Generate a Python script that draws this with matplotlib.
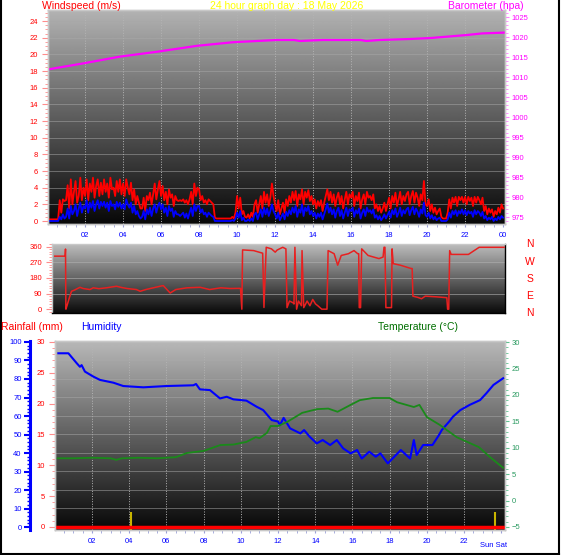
import numpy as np
import matplotlib
matplotlib.use('Agg')
import matplotlib.pyplot as plt
from matplotlib.lines import Line2D
from matplotlib.ticker import MultipleLocator

plt.rcParams['font.family'] = ['Liberation Sans', 'DejaVu Sans']

W, H = 566, 555

# wind speed, 5-minute readings (m/s), one row per hour
gust_rows = [
    [0.2, 0.2, 0.2, 0.2, 0.2, 0.2, 0.2, 0.2, 2.5, 1.0, 2.6, 2.4],
    [2.5, 4.3, 1.5, 5.0, 2.0, 3.5, 4.8, 2.2, 3.0, 5.2, 2.5, 4.0],
    [3.0, 5.0, 2.5, 4.5, 3.5, 5.2, 2.8, 4.2, 5.0, 3.0, 4.6, 3.2],
    [5.0, 3.5, 4.5, 2.8, 5.2, 3.8, 4.0, 3.0, 4.8, 3.5, 5.0, 3.2],
    [4.5, 3.0, 5.0, 4.0, 3.2, 4.6, 2.5, 3.8, 2.0, 3.0, 2.2, 1.5],
    [1.5, 2.8, 1.2, 3.0, 2.5, 3.4, 2.0, 3.2, 4.5, 2.6, 3.8, 4.8],
    [3.0, 4.2, 2.5, 3.5, 2.0, 3.8, 2.8, 3.2, 1.8, 3.0, 2.5, 2.4],
    [2.5, 2.4, 2.6, 2.2, 2.5, 2.0, 2.6, 3.5, 2.0, 4.5, 3.0, 4.0],
    [3.8, 2.5, 3.0, 2.2, 2.5, 2.0, 2.6, 2.4, 2.2, 2.0, 0.4, 0.3],
    [0.3, 0.3, 0.3, 0.3, 0.3, 0.3, 0.3, 0.3, 0.3, 0.5, 0.3, 1.0],
    [3.0, 1.5, 2.8, 0.8, 1.2, 0.5, 0.4, 0.8, 0.3, 1.0, 0.5, 2.0],
    [2.5, 1.0, 2.0, 3.0, 1.5, 3.5, 2.2, 3.2, 1.8, 2.8, 4.5, 3.0],
    [2.0, 1.2, 2.5, 0.8, 1.5, 2.2, 1.0, 2.6, 1.8, 3.0, 2.2, 3.5],
    [2.5, 3.6, 1.8, 3.2, 2.6, 3.8, 2.0, 3.5, 2.8, 3.7, 2.4, 3.0],
    [2.0, 2.6, 1.5, 2.4, 1.8, 2.5, 1.2, 2.2, 3.0, 3.8, 2.5, 3.5],
    [2.2, 3.2, 1.8, 2.8, 3.4, 2.0, 3.0, 1.5, 2.6, 3.5, 2.0, 3.2],
    [2.8, 3.5, 1.8, 3.0, 2.4, 3.4, 1.5, 2.6, 3.2, 2.0, 3.5, 2.8],
    [3.0, 2.5, 3.2, 1.5, 2.0, 1.2, 1.8, 1.0, 1.5, 2.2, 1.2, 2.0],
    [2.8, 1.5, 3.0, 2.2, 3.4, 1.8, 2.6, 3.5, 2.0, 3.0, 2.4, 3.2],
    [3.5, 2.0, 3.0, 3.6, 2.2, 3.4, 2.8, 1.8, 3.2, 2.5, 4.8, 2.0],
    [1.8, 2.6, 1.2, 2.0, 1.0, 1.6, 0.8, 1.2, 1.5, 0.5, 0.3, 0.3],
    [0.3, 1.0, 2.6, 1.5, 2.8, 2.2, 2.9, 1.8, 2.9, 2.5, 2.9, 2.2],
    [2.9, 2.0, 2.9, 2.4, 2.8, 1.8, 2.9, 2.2, 2.9, 2.5, 2.0, 2.8],
    [1.2, 1.8, 0.8, 1.5, 1.0, 1.4, 0.5, 1.2, 0.8, 1.6, 1.0, 2.0],
]
avg_rows = [
    [0.0, 0.0, 0.0, 0.0, 0.0, 0.0, 0.0, 0.0, 0.5, 0.2, 0.8, 0.3],
    [0.5, 1.5, 0.3, 1.8, 0.8, 1.2, 2.0, 0.6, 1.5, 2.2, 1.0, 1.8],
    [1.5, 2.5, 1.0, 2.2, 1.6, 2.4, 1.2, 2.0, 2.5, 1.5, 2.3, 1.8],
    [2.3, 1.6, 2.2, 1.2, 2.4, 1.8, 2.0, 1.4, 2.3, 1.7, 2.2, 1.5],
    [2.0, 1.4, 2.6, 2.0, 1.6, 2.2, 1.0, 1.8, 0.8, 1.2, 0.6, 0.3],
    [0.5, 1.2, 0.2, 1.4, 0.8, 1.6, 0.6, 1.5, 2.0, 1.0, 1.8, 2.2],
    [1.4, 2.0, 1.0, 1.6, 0.6, 1.8, 1.2, 1.5, 0.5, 1.2, 0.8, 0.8],
    [0.6, 0.8, 1.0, 0.4, 0.9, 0.3, 1.0, 1.6, 0.6, 2.0, 1.2, 1.8],
    [1.8, 1.0, 1.4, 0.8, 1.0, 0.5, 1.0, 0.8, 0.6, 0.5, 0.0, 0.0],
    [0.0, 0.0, 0.0, 0.0, 0.0, 0.0, 0.0, 0.0, 0.0, 0.1, 0.0, 0.3],
    [1.0, 0.4, 1.2, 0.1, 0.4, 0.0, 0.0, 0.2, 0.0, 0.3, 0.0, 0.8],
    [1.0, 0.2, 0.8, 1.4, 0.5, 1.6, 0.8, 1.5, 0.6, 1.2, 2.0, 1.2],
    [0.8, 0.3, 1.0, 0.1, 0.5, 0.9, 0.2, 1.1, 0.6, 1.3, 0.8, 1.6],
    [1.0, 1.8, 0.5, 1.4, 1.0, 2.0, 0.6, 1.6, 1.2, 1.8, 0.8, 1.2],
    [0.6, 1.0, 0.3, 0.9, 0.5, 1.0, 0.2, 0.8, 1.4, 2.1, 1.0, 1.6],
    [0.8, 1.4, 0.4, 1.2, 1.6, 0.6, 1.3, 0.3, 1.0, 1.6, 0.6, 1.4],
    [1.2, 1.6, 0.5, 1.3, 0.9, 1.5, 0.3, 1.0, 1.4, 0.6, 1.6, 1.1],
    [1.3, 0.9, 1.4, 0.4, 0.7, 0.2, 0.6, 0.1, 0.4, 0.8, 0.3, 0.7],
    [1.1, 0.4, 1.3, 0.8, 1.5, 0.5, 1.0, 1.6, 0.6, 1.3, 0.9, 1.4],
    [1.6, 0.7, 1.3, 1.7, 0.8, 1.5, 1.1, 0.5, 1.4, 0.9, 2.2, 0.7],
    [0.5, 1.0, 0.3, 0.7, 0.2, 0.5, 0.1, 0.3, 0.4, 0.0, 0.0, 0.0],
    [0.0, 0.2, 1.0, 0.4, 1.2, 0.8, 1.3, 0.6, 1.2, 0.9, 1.4, 0.8],
    [1.3, 0.7, 1.2, 0.9, 1.1, 0.5, 1.3, 0.8, 1.2, 1.0, 0.6, 1.1],
    [0.3, 0.6, 0.1, 0.4, 0.2, 0.5, 0.0, 0.3, 0.1, 0.5, 0.2, 0.6],
]
wind_gust = [v for row in gust_rows for v in row] + [1.5]
wind_avg = [v for row in avg_rows for v in row] + [0.4]
wind_hours = np.arange(len(wind_gust)) / 12.0

# barometer (hPa)
baro_hours = [0.05, 1.9, 3.84, 5.77, 7.9, 9.8, 12.1, 13.0, 13.3, 14.5, 16.5, 16.8, 17.5, 19.1, 20.2, 22.1, 22.9, 24.1]
baro_hpa = [1011.9, 1013.4, 1015.1, 1016.3, 1017.8, 1018.7, 1019.25, 1019.25, 1019.0, 1019.25,
            1019.25, 1019.0, 1019.25, 1019.5, 1019.75, 1020.5, 1020.9, 1021.1]

# wind direction (degrees)
dir_hours = [0.05, 0.6, 0.62, 0.64, 0.7, 0.82, 0.94, 1.1, 1.39, 1.56, 1.92, 2.1, 2.4, 2.8, 3.1,
             3.34, 3.6, 3.9, 4.4, 4.6, 4.9, 5.3, 5.83, 6.2, 6.5, 7.1, 7.8, 8.3, 8.9, 9.4, 9.95,
             10.02, 10.06, 10.65, 11.13, 11.2, 11.32, 11.6, 11.8, 11.9, 12.2, 12.37, 12.43, 12.56,
             12.75, 12.8, 12.85, 12.94, 13.04, 13.2, 13.23, 13.32, 13.5, 13.65, 13.8, 13.95, 14.08,
             14.28, 14.56, 14.62, 14.94, 15.13, 15.32, 15.7, 16.0, 16.2, 16.25, 16.28, 16.35, 16.41,
             16.75, 17.33, 17.55, 17.6, 17.65, 17.7, 18.0, 18.03, 18.09, 18.47, 19.04, 19.1, 19.14,
             19.4, 19.6, 19.8, 20.4, 20.95, 20.99, 21.05, 21.1, 21.18, 22.1, 22.67, 24.0]
dir_deg = [305, 305, 346, 0, 20, 64, 103, 110, 126, 119, 113, 123, 118, 123, 128,
           132, 125, 119, 113, 103, 113, 123, 136, 93, 113, 123, 126, 113, 123, 119, 120,
           0, 341, 337, 322, 10, 356, 347, 328, 340, 356, 347, 9, 47,
           37, 30, 356, 0, 47, 20, 337, 9, 47, 20, 56, 30, 19,
           0, 0, 337, 319, 253, 309, 319, 337, 319, 319, 9, 9, 347,
           309, 291, 300, 356, 356, 9, 9, 347, 262, 253, 234, 234, 75,
           68, 60, 75, 71, 66, 0, 0, 337, 315, 315, 356, 356]

# humidity (%)
hum_hours = [0.19, 0.73, 1.18, 1.35, 1.44, 1.62, 2.07, 2.43, 3.15, 3.68, 4.76, 6.0, 7.45, 7.59,
             7.8, 8.34, 8.88, 9.24, 9.6, 10.3, 10.85, 11.2, 11.66, 12.0, 12.1, 12.3, 12.65, 13.2,
             13.4, 13.7, 14.08, 14.4, 14.8, 15.16, 15.5, 15.9, 16.25, 16.5, 16.9, 17.25, 17.5,
             17.9, 18.25, 18.6, 19.1, 19.3, 19.45, 19.8, 20.3, 20.65, 20.8, 21.2, 21.4, 21.8,
             22.3, 22.86, 23.2, 23.58, 24.1]
hum_pct = [93.9, 93.9, 88.5, 86.6, 87.5, 84, 81.3, 79.5, 78, 76.2, 75.5, 76.2, 76.6, 77.3,
           74.4, 74, 69.5, 70.4, 69, 68.3, 65, 63.2, 57.8, 57, 55, 59, 53.3, 50.6,
           52.4, 48.8, 45.2, 47, 44.3, 47, 42.5, 39.8, 41.6, 37, 40.7, 38, 39.8,
           34.4, 38, 41.6, 37, 47, 38.9, 44.3, 44.3, 49.7, 52.4, 57, 59.6, 63.2,
           66, 68.6, 72.3, 76.8, 80.4]

# temperature (C)
temp_hours = [0.15, 1.0, 2.0, 3.0, 3.3, 3.6, 4.5, 5.5, 6.5, 7.1, 8.0, 8.9, 9.6, 10.3, 10.8, 11.0,
              11.4, 11.6, 12.0, 12.5, 13.3, 14.1, 14.7, 15.2, 15.9, 16.4, 17.1, 18.0, 18.4, 18.9,
              19.3, 19.6, 20.0, 20.7, 21.6, 22.8, 23.4, 24.1]
temp_c = [8.0, 8.0, 8.1, 8.0, 7.7, 8.0, 8.1, 8.0, 8.2, 9.0, 9.4, 10.5, 10.6, 11.1, 12.0, 11.8,
          12.8, 14.1, 14.1, 14.9, 16.6, 17.3, 17.4, 16.8, 18.1, 19.0, 19.4, 19.4, 18.6, 18.1,
          17.7, 18.1, 15.8, 14.3, 12.0, 10.1, 8.2, 6.2]

# rainfall (mm)
rain_hours = [0.0, 24.2]
rain_mm = [0.0, 0.0]
mark_hours = [4.1, 23.68]
mark_mm = [2.4, 2.4]

hour_ticks = list(range(2, 25, 2))
hour_labels = ['%02d' % (h % 24) for h in hour_ticks]

RED = '#ff0000'
PINK = '#ff8c8c'
BLUE = '#0000ff'
MAG = '#ff00ff'
GREEN = '#1a8a1a'
TEAL = '#2a9a60'
XTICK = '#9aa0d8'
TICKFONT = 5.5


def box(x0, y0, x1, y1):
    return [x0 / W, 1 - y1 / H, (x1 - x0) / W, (y1 - y0) / H]


def shade(ax, top=0.70, bottom=0.03):
    grad = np.linspace(top, bottom, 256).reshape(-1, 1)
    x0, x1 = ax.get_xlim()
    y0, y1 = ax.get_ylim()
    ax.imshow(grad, cmap='gray', vmin=0, vmax=1, aspect='auto',
              extent=(x0, x1, y0, y1), origin='upper', zorder=0)
    ax.set_xlim(x0, x1)
    ax.set_ylim(y0, y1)


def frame(ax, color='#c8c8c8'):
    for s in ax.spines.values():
        s.set_color(color)
        s.set_linewidth(1)


def hours_axis(ax):
    ax.set_xticks(hour_ticks)
    ax.set_xticklabels(hour_labels)
    ax.xaxis.set_minor_locator(MultipleLocator(0.5))
    ax.tick_params(axis='x', which='both', colors=XTICK, labelcolor=BLUE,
                   labelsize=TICKFONT, length=2, pad=4)


fig = plt.figure(figsize=(W / 100, H / 100), dpi=100)

# ---- wind speed / barometer ----
ax1 = fig.add_axes(box(48, 10, 505, 224))
ax1.set_xlim(0.05, 24.1)
ax1.set_ylim(-0.36, 25.33)
shade(ax1)
for h in range(2, 24, 2):
    ax1.axvline(h, color='#b4b4b4', lw=0.7, ls=':', zorder=1)
for v in range(2, 26, 2):
    ax1.axhline(v, color='#a8a8a8', lw=0.6, alpha=0.6, zorder=1)
ax1.plot(wind_hours, wind_gust, color=RED, lw=1.3, zorder=3)
ax1.plot(wind_hours, wind_avg, color=BLUE, lw=1.3, zorder=4)
ax1.set_yticks(range(0, 25, 2))
ax1.yaxis.set_minor_locator(MultipleLocator(0.5))
ax1.tick_params(axis='y', which='both', colors=PINK, labelcolor=RED,
                labelsize=TICKFONT, pad=3)
ax1.tick_params(axis='y', which='major', length=4)
ax1.tick_params(axis='y', which='minor', length=2)
hours_axis(ax1)
frame(ax1)

ax1b = ax1.twinx()
ax1b.set_ylim(973.25, 1026.75)
ax1b.plot(baro_hours, baro_hpa, color=MAG, lw=1.6)
ax1b.set_yticks(range(975, 1026, 5))
ax1b.yaxis.set_minor_locator(MultipleLocator(1))
ax1b.tick_params(axis='y', which='both', colors='#ff80ff', labelcolor=MAG,
                 labelsize=TICKFONT, pad=2)
ax1b.tick_params(axis='y', which='major', length=3)
ax1b.tick_params(axis='y', which='minor', length=2)
frame(ax1b)

# ---- wind direction ----
ax2 = fig.add_axes(box(52, 244, 505, 313))
ax2.set_xlim(-0.1, 24.05)
ax2.set_ylim(-22, 375)
shade(ax2, 0.74, 0.04)
for d in (90, 180, 270):
    ax2.axhline(d, color='#b0b0b0', lw=0.6, alpha=0.7, zorder=1)
ax2.plot(dir_hours, dir_deg, color='#e82020', lw=1.1, zorder=3)
ax2.set_yticks([0, 90, 180, 270, 360])
ax2.yaxis.set_minor_locator(MultipleLocator(15))
ax2.tick_params(axis='y', which='both', colors=PINK, labelcolor=RED,
                labelsize=TICKFONT, pad=3)
ax2.tick_params(axis='y', which='major', length=4)
ax2.tick_params(axis='y', which='minor', length=2)
ax2.set_xticks([])
frame(ax2)
ax2.spines['bottom'].set_color('black')
ax2.spines['right'].set_color('black')

for name, yy in zip(['N', 'W', 'S', 'E', 'N'], [244, 261.5, 279, 296, 313]):
    fig.text(530 / W, 1 - yy / H, name, color=RED, fontsize=7.5, ha='center', va='center')

# ---- rainfall / humidity / temperature ----
ax3 = fig.add_axes(box(55, 341, 505, 530))
ax3.set_xlim(0.01, 24.2)
ax3.set_ylim(-0.49, 30.16)
shade(ax3, 0.72, 0.03)
for h in range(2, 24, 2):
    ax3.axvline(h, color='#b4b4b4', lw=0.7, ls=':', zorder=1)
for r in range(3, 30, 3):
    ax3.axhline(r, color='#a8a8a8', lw=0.6, alpha=0.6, zorder=1)
ax3.vlines(mark_hours, -0.49, mark_mm, color='#c8b400', lw=1.5, zorder=3)
ax3.plot(rain_hours, rain_mm, color=RED, lw=2.5, zorder=4)
ax3.set_yticks(range(0, 31, 5))
ax3.yaxis.set_minor_locator(MultipleLocator(1))
ax3.tick_params(axis='y', which='both', colors=PINK, labelcolor=RED,
                labelsize=TICKFONT, pad=3)
ax3.tick_params(axis='y', which='major', length=4)
ax3.tick_params(axis='y', which='minor', length=2)
hours_axis(ax3)
ax3.set_xticklabels(hour_labels[:-1] + [''])
ax3.text(23.6, -2.4, 'Sun Sat', color=BLUE, fontsize=TICKFONT, ha='center', va='top',
         clip_on=False)
frame(ax3)

ax3h = ax3.twinx()
ax3h.set_ylim(-1.62, 100.54)
ax3h.plot(hum_hours, hum_pct, color=BLUE, lw=1.5)
ax3h.yaxis.tick_left()
for s in ('top', 'bottom', 'right'):
    ax3h.spines[s].set_visible(False)
ax3h.spines['left'].set_position(('outward', 18))
ax3h.spines['left'].set_color(BLUE)
ax3h.spines['left'].set_linewidth(2.2)
ax3h.set_yticks(range(0, 101, 10))
ax3h.yaxis.set_minor_locator(MultipleLocator(2))
ax3h.tick_params(axis='y', which='both', colors=BLUE, labelcolor=BLUE,
                 labelsize=TICKFONT, pad=2)
ax3h.tick_params(axis='y', which='major', length=4, width=1.5)
ax3h.tick_params(axis='y', which='minor', length=2.5, width=1)

ax3t = ax3.twinx()
ax3t.set_ylim(-5.57, 30.19)
ax3t.plot(temp_hours, temp_c, color=GREEN, lw=1.3)
ax3t.set_yticks(range(-5, 31, 5))
ax3t.yaxis.set_minor_locator(MultipleLocator(1))
ax3t.tick_params(axis='y', which='both', colors='#60c090', labelcolor=TEAL,
                 labelsize=TICKFONT, pad=2)
ax3t.tick_params(axis='y', which='major', length=3)
ax3t.tick_params(axis='y', which='minor', length=2)
frame(ax3t)

# ---- headings ----
fig.text(42 / W, 1 - 6 / H, 'Windspeed (m/s)', color=RED, fontsize=7.5, va='center')
fig.text(287 / W, 1 - 6 / H, '24 hour graph day : 18 May 2026', color='#ffff00',
         fontsize=7.5, ha='center', va='center')
fig.text(448 / W, 1 - 6 / H, 'Barometer (hpa)', color=MAG, fontsize=7.5, va='center')
fig.text(1 / W, 1 - 327 / H, 'Rainfall (mm)', color=RED, fontsize=7.5, va='center')
fig.text(81 / W, 1 - 327 / H, 'Humidity', color=BLUE, fontsize=7.5, va='center')
fig.text(378 / W, 1 - 327 / H, 'Temperature (°C)', color='#006e00', fontsize=7.5, va='center')

# outer border
for xs, ys in (([0.8, 0.8], [0, 555]), ([558.5, 558.5], [0, 555]), ([0, 559], [553.5, 553.5])):
    fig.add_artist(Line2D([x / W for x in xs], [1 - y / H for y in ys],
                          color='black', lw=1.5, transform=fig.transFigure))

fig.savefig('out.png', dpi=100, facecolor='white')
